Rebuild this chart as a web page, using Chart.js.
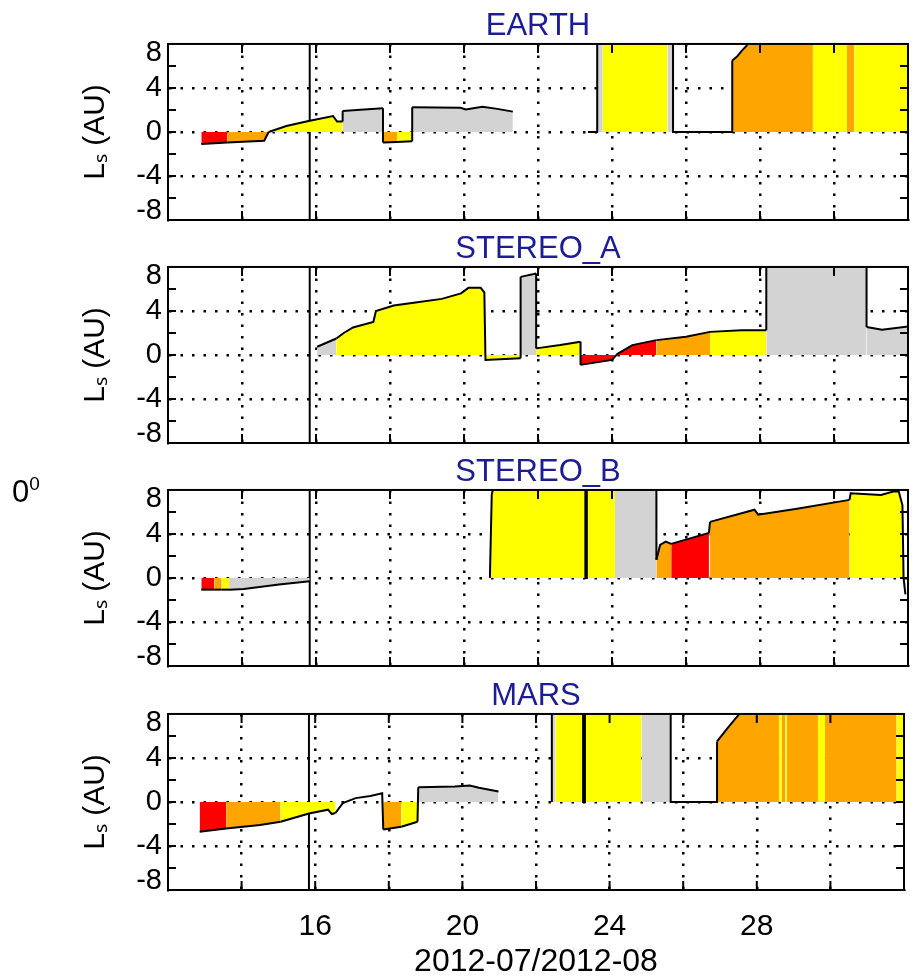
<!DOCTYPE html>
<html>
<head>
<meta charset="utf-8">
<script src="https://cdn.jsdelivr.net/npm/chart.js@4.4.0/dist/chart.umd.min.js"></script>
<style>
  body { margin: 0; background: #fff; width: 923px; height: 978px; position: relative; overflow: hidden;
         font-family: "Liberation Sans", Arial, sans-serif; }
  .panel { position: absolute; left: 0; width: 923px; }
  #angle { position: absolute; left: 12px; top: 474px; font-size: 31px; line-height: 1; color: #000; }
  #angle sup { font-size: 19px; vertical-align: 12px; }
</style>
</head>
<body>
<div class="panel" style="top:8px;height:238px"><canvas id="earth"></canvas></div>
<div class="panel" style="top:231px;height:238px"><canvas id="stereoA"></canvas></div>
<div class="panel" style="top:454px;height:238px"><canvas id="stereoB"></canvas></div>
<div class="panel" style="top:678px;height:300px"><canvas id="mars"></canvas></div>
<div id="angle">0<sup>0</sup></div>

<script>
// day of July 2012 (32 = Aug 1), L_S in AU, fill colour of the step starting at that point
const earthDay = [12.9, 13.6, 14.6, 14.72, 15.2, 15.8, 16.46, 16.57, 16.72, 16.72, 17.3, 17.81, 17.81, 18.19, 18.6, 18.6, 19.9, 20.05, 20.5, 20.9, 21.32, 22.0, 23.35, 23.6, 23.6, 23.75, 25.5, 25.65, 25.65, 27.25, 27.25, 27.38, 27.51, 27.64, 27.75, 29.43, 30.35, 30.55, 32.0];
const earthLs = [-1.1, -0.95, -0.8, 0, 0.55, 1.0, 1.45, 0.95, 0.95, 1.9, 2.05, 2.15, -0.95, -0.9, -0.85, 2.25, 2.2, 2.05, 2.3, 2.1, 1.85, null, 0, 0, 9, 9, 9, 9, 0, 0, 6.5, 6.85, 7.4, 7.85, 9, 9, 9, 9, 9];
const earthFill = ['R','O','O','Y','Y','Y','Y','Y','N','G','G','N','O','Y','N','G','G','G','G','G','N','N','N','N','G','Y','G','N','N','N','O','O','O','O','O','Y','O','Y','N'];

const stereoADay = [16.03, 16.55, 16.75, 17.0, 17.55, 17.62, 18.1, 18.74, 19.4, 19.92, 20.12, 20.45, 20.55, 20.58, 21.53, 21.53, 21.95, 21.95, 22.6, 23.15, 23.15, 24.0, 24.15, 24.55, 25.2, 26.0, 26.65, 27.5, 28.17, 28.17, 30.88, 30.88, 31.3, 32.0];
const stereoALs = [0.75, 1.5, 2.0, 2.5, 3.0, 4.0, 4.5, 4.8, 5.1, 5.6, 6.1, 6.1, 5.7, -0.45, -0.3, 7.1, 7.4, 0.6, 0.9, 1.2, -0.9, -0.45, 0.1, 0.9, 1.35, 1.65, 2.1, 2.25, 2.25, 9.5, 9.5, 2.55, 2.3, 2.6];
const stereoAFill = ['G','Y','Y','Y','Y','Y','Y','Y','Y','Y','Y','Y','Y','Y','N','G','N','Y','Y','N','R','R','R','R','O','O','Y','Y','N','G','N','G','G','N'];

const stereoBDay = [12.9, 13.25, 13.45, 13.65, 14.05, 15.0, 15.83, 18.0, 20.7, 20.75, 20.85, 23.28, 23.28, 23.32, 23.32, 24.08, 25.2, 25.2, 25.3, 25.45, 25.6, 26.62, 26.65, 27.85, 27.95, 29.0, 30.42, 30.45, 31.27, 31.6, 31.75, 31.85, 31.88, 31.93];
const stereoBLs = [-1.06, -1.06, -1.06, -1.06, -1.0, -0.6, -0.3, null, 0, 7.6, 9, 9, 0, 0, 9, 9, 9, 1.65, 3.0, 3.3, 3.1, 4.1, 5.1, 6.2, 5.75, 6.3, 7.1, 7.7, 7.55, 7.85, 7.85, 6.6, 0, -1.5];
const stereoBFill = ['R','O','Y','G','G','G','N','N','Y','Y','Y','N','N','N','Y','G','N','O','O','O','R','N','O','O','O','O','Y','Y','Y','Y','Y','Y','O','N'];

const marsDay = [12.86, 13.58, 14.5, 15.06, 15.83, 16.35, 16.45, 16.55, 16.75, 17.1, 17.5, 17.82, 17.85, 18.34, 18.78, 18.8, 19.8, 20.2, 20.45, 20.98, 21.7, 22.43, 22.43, 22.53, 23.28, 23.28, 23.33, 23.33, 24.87, 25.66, 25.66, 26.92, 26.92, 27.2, 27.5, 27.6, 28.6, 28.68, 28.78, 28.82, 29.66, 29.85, 31.8, 32.0];
const marsLs = [-2.7, -2.4, -2.1, -1.8, -1.05, -0.7, -1.1, -1.0, -0.1, 0.35, 0.55, 0.8, -2.5, -2.25, -1.8, 1.33, 1.4, 1.5, 1.3, 0.95, null, 0, 9, 9, 9, 0, 0, 9, 9, 9, 0, 0, 5.5, 6.7, 7.9, 9, 9, 9, 9, 9, 9, 9, 9, 9];
const marsFill = ['R','O','O','Y','Y','Y','Y','N','N','N','N','N','O','Y','N','G','G','G','G','N','N','N','G','Y','N','N','N','Y','G','N','N','N','O','O','O','O','Y','O','Y','O','Y','O','Y','N'];

const nowDay = 15.83;
const xLabels = [16, 20, 24, 28];
const yLabels = [8, 4, 0, -4, -8];

const COLORS = {R: '#ff0000', O: '#ffa500', Y: '#ffff00', G: '#d3d3d3', N: 'rgba(0,0,0,0)'};
Chart.defaults.font.family = '"Liberation Sans", Arial, sans-serif';
Chart.defaults.color = '#000';

// box round the plot plus IDL-style ticks drawn inside it
const frame = {
  id: 'frame',
  afterDraw(chart) {
    const {ctx, chartArea: a, scales: {x, y}} = chart;
    ctx.save();
    ctx.strokeStyle = '#000';
    ctx.lineWidth = 2;
    ctx.strokeRect(a.left, a.top, a.right - a.left, a.bottom - a.top);
    ctx.beginPath();
    y.ticks.forEach(t => {
      if (Math.abs(t.value) >= 8) return;
      const p = y.getPixelForValue(t.value);
      ctx.moveTo(a.left, p); ctx.lineTo(a.left + 8, p);
      ctx.moveTo(a.right, p); ctx.lineTo(a.right - 8, p);
    });
    x.ticks.forEach(t => {
      if (t.value <= 12 || t.value >= 32) return;
      const p = x.getPixelForValue(t.value);
      ctx.moveTo(p, a.bottom); ctx.lineTo(p, a.bottom - 9);
      ctx.moveTo(p, a.top); ctx.lineTo(p, a.top + 9);
    });
    ctx.stroke();
    ctx.restore();
  }
};

function yTick(v) {
  if (v === 8) return ['', '8'];
  if (v === -8) return ['-8', ''];
  return yLabels.includes(v) ? String(v) : '';
}

function makePanel(id, title, days, ls, fills, last) {
  const pts = days.map((d, i) => ({x: d, y: ls[i]}));
  new Chart(document.getElementById(id), {
    type: 'line',
    data: {
      datasets: [
        {
          data: pts,
          borderColor: '#000',
          borderWidth: 2,
          backgroundColor: 'rgba(0,0,0,0)',
          pointRadius: 0,
          tension: 0,
          fill: 'origin',
          segment: {backgroundColor: c => COLORS[fills[c.p0DataIndex]]}
        },
        {
          data: [{x: nowDay, y: -8}, {x: nowDay, y: 8}],
          borderColor: '#000',
          borderWidth: 2,
          pointRadius: 0,
          fill: false
        }
      ]
    },
    options: {
      responsive: true,
      maintainAspectRatio: false,
      animation: false,
      events: [],
      layout: {padding: {left: 0, right: 15, top: 0, bottom: 0}},
      plugins: {
        legend: {display: false},
        tooltip: {enabled: false},
        title: {
          display: true, text: title, color: '#1c1c94', fullSize: false,
          font: {size: 31, weight: 'normal', lineHeight: 1.16}, padding: {top: 0, bottom: 0}
        }
      },
      scales: {
        x: {
          type: 'linear', min: 12, max: 32, z: 1,
          ticks: {
            stepSize: 2, autoSkip: false, maxRotation: 0, display: last, padding: 19,
            font: {size: 30}, callback: v => xLabels.includes(v) ? String(v) : ''
          },
          grid: {
            drawTicks: false, lineWidth: 2.5,
            color: c => (c.tick && c.tick.value > 12 && c.tick.value < 32) ? '#000' : 'rgba(0,0,0,0)'
          },
          border: {display: true, color: '#000', width: 2, dash: [2.5, 9]},
          title: {
            display: last, text: '2012-07/2012-08',
            font: {size: 32, lineHeight: 1}, padding: {top: 0, bottom: 0}
          },
          afterFit: s => { s.height = last ? 88 : 26; }
        },
        y: {
          min: -8, max: 8, z: 1,
          ticks: {stepSize: 2, autoSkip: false, padding: 6, font: {size: 29, lineHeight: 0.6}, callback: yTick},
          grid: {
            drawTicks: false, lineWidth: 2.5,
            color: c => (c.tick && [4, 0, -4].includes(c.tick.value)) ? '#000' : 'rgba(0,0,0,0)'
          },
          border: {display: true, color: '#000', width: 2, dash: [2.5, 9]},
          title: {display: true, text: 'Lₛ (AU)', font: {size: 30}, padding: {top: 78, bottom: 0}},
          afterFit: s => { s.width = 168; }
        }
      }
    },
    plugins: [frame]
  });
}

makePanel('earth', 'EARTH', earthDay, earthLs, earthFill, false);
makePanel('stereoA', 'STEREO_A', stereoADay, stereoALs, stereoAFill, false);
makePanel('stereoB', 'STEREO_B', stereoBDay, stereoBLs, stereoBFill, false);
makePanel('mars', 'MARS', marsDay, marsLs, marsFill, true);
</script>
</body>
</html>
